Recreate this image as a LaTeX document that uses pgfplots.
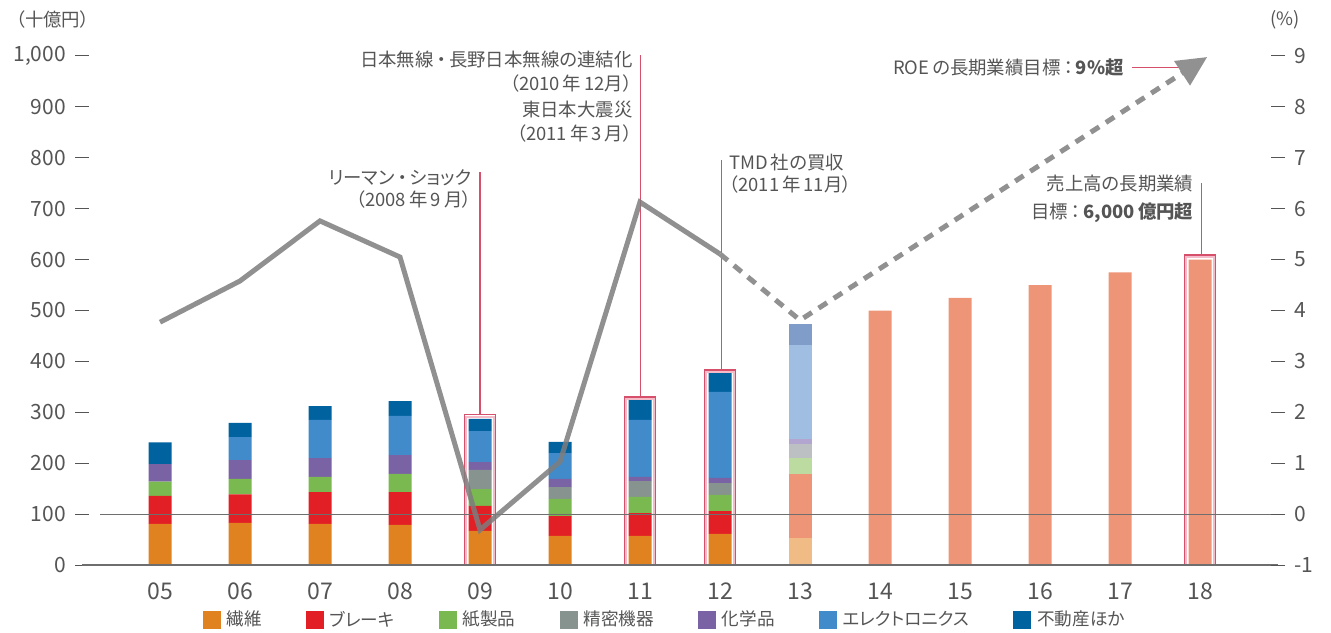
\documentclass[border=0pt]{standalone}
\usepackage{pgfplots}
\pgfplotsset{compat=1.18}
\usepackage{pgfplotstable}
\usepackage{fontspec}
\setmainfont{Noto Sans CJK JP}[RawFeature=+palt]
\usetikzlibrary{arrows.meta}

\definecolor{cFib}{HTML}{E0821F}
\definecolor{cBrk}{HTML}{E31F26}
\definecolor{cPap}{HTML}{7AB94F}
\definecolor{cPre}{HTML}{87938F}
\definecolor{cChe}{HTML}{7A63A5}
\definecolor{cEle}{HTML}{418BCB}
\definecolor{cRea}{HTML}{00629F}
\definecolor{fFib}{HTML}{F0BB84}
\definecolor{fBrk}{HTML}{EE9578}
\definecolor{fPap}{HTML}{BCDBA0}
\definecolor{fPre}{HTML}{BDC0C2}
\definecolor{fChe}{HTML}{B2A5CF}
\definecolor{fEle}{HTML}{A0BDE2}
\definecolor{fRea}{HTML}{7F9DC8}
\definecolor{cTgt}{HTML}{EE9578}
\definecolor{textgray}{HTML}{555555}
\definecolor{boxred}{HTML}{D6506C}
\definecolor{boxpink}{HTML}{F3BCC8}
\definecolor{roegray}{HTML}{7D7D7D}
\definecolor{linegray}{HTML}{6E6E6E}

\pgfplotstableread{
x s1 s2 s3 s4 s5 s6 s7 f1 f2 f3 f4 f5 f6 f7 t
0 81 55 28 0 34 0 43 0 0 0 0 0 0 0 0
1 83 56 30 0 37 45 28 0 0 0 0 0 0 0 0
2 81 62 30 0 37 75 27 0 0 0 0 0 0 0 0
3 79 64 36 0 37 77 29 0 0 0 0 0 0 0 0
4 67 49 33 38 15 61 24 0 0 0 0 0 0 0 0
5 57 39 34 23 16 51 22 0 0 0 0 0 0 0 0
6 57 45 32 31 8 112 39 0 0 0 0 0 0 0 0
7 61 45 32 23 10 169 37 0 0 0 0 0 0 0 0
8 0 0 0 0 0 0 0 53 126 31 28 10 184 41 0
9 0 0 0 0 0 0 0 0 0 0 0 0 0 0 500
10 0 0 0 0 0 0 0 0 0 0 0 0 0 0 525
11 0 0 0 0 0 0 0 0 0 0 0 0 0 0 550
12 0 0 0 0 0 0 0 0 0 0 0 0 0 0 575
13 0 0 0 0 0 0 0 0 0 0 0 0 0 0 600
}\bars

\pgfplotstableread{
x roe
0 3.77
1 4.58
2 5.76
3 5.05
4 -0.31
5 1.03
6 6.13
7 5.11
}\roeA

\pgfplotstableread{
x roe
7 5.11
8 3.81
13.09 8.98
}\roeB

\begin{document}
\begin{tikzpicture}[every node/.style={text=textgray}]
\begin{axis}[name=ax, set layers=standard,
  scale only axis, width=598pt, height=254.5pt,
  xmin=-0.975, xmax=13.975, ymin=0, ymax=1000,
  clip=false,
  axis line style={draw=none},
  ybar stacked, bar width=11.5pt,
  xtick={0,...,13},
  xticklabels={05,06,07,08,09,10,11,12,13,14,15,16,17,18},
  x tick style={draw=none},
  xtick pos=bottom, ytick pos=left,
  ytick={0,100,...,1000},
  y tick style={draw=textgray, line width=0.5pt},
  tick align=center, major tick length=7pt,
  /pgf/number format/assume math mode=true,
  /pgf/number format/1000 sep={,},
  tick label style={font=\fontsize{10.5}{12}\selectfont, text=textgray},
  xticklabel style={font=\fontsize{11.5}{13}\selectfont, yshift=-2pt},
  yticklabel style={xshift=-1pt},
  legend columns=7,
  legend style={draw=none, fill=none, at={(rel axis cs:0.488,-0.108)}, anchor=center,
    font=\fontsize{8.8}{10}\selectfont, text=textgray,
    /tikz/every even column/.append style={column sep=20pt},
    /tikz/every odd column/.append style={column sep=1pt}},
  legend image code/.code={\path[#1,draw=none] (0pt,-4.5pt) rectangle (9pt,4.5pt);},
]
\draw[on layer=axis background, linegray, line width=0.6pt] (axis cs:-0.975,0) -- (axis cs:13.975,0);
\draw[on layer=axis background, linegray, line width=0.6pt] (axis cs:-0.75,100) -- (axis cs:13.975,100);

\addplot[fill=cFib, draw=none] table[x=x,y=s1]{\bars}; \addlegendentry{繊維}
\addplot[fill=cBrk, draw=none] table[x=x,y=s2]{\bars}; \addlegendentry{ブレーキ}
\addplot[fill=cPap, draw=none] table[x=x,y=s3]{\bars}; \addlegendentry{紙製品}
\addplot[fill=cPre, draw=none] table[x=x,y=s4]{\bars}; \addlegendentry{精密機器}
\addplot[fill=cChe, draw=none] table[x=x,y=s5]{\bars}; \addlegendentry{化学品}
\addplot[fill=cEle, draw=none] table[x=x,y=s6]{\bars}; \addlegendentry{エレクトロニクス}
\addplot[fill=cRea, draw=none] table[x=x,y=s7]{\bars}; \addlegendentry{不動産ほか}
\addplot[fill=fFib, draw=none, forget plot] table[x=x,y=f1]{\bars};
\addplot[fill=fBrk, draw=none, forget plot] table[x=x,y=f2]{\bars};
\addplot[fill=fPap, draw=none, forget plot] table[x=x,y=f3]{\bars};
\addplot[fill=fPre, draw=none, forget plot] table[x=x,y=f4]{\bars};
\addplot[fill=fChe, draw=none, forget plot] table[x=x,y=f5]{\bars};
\addplot[fill=fEle, draw=none, forget plot] table[x=x,y=f6]{\bars};
\addplot[fill=fRea, draw=none, forget plot] table[x=x,y=f7]{\bars};
\addplot[fill=cTgt, draw=none, forget plot] table[x=x,y=t]{\bars};

% highlight boxes
\draw[boxpink, line width=0.7pt] (axis cs:3.825,0) rectangle (axis cs:4.175,291);
\draw[boxred, line width=0.6pt] (axis cs:3.805,0) rectangle (axis cs:4.195,295);
\draw[boxpink, line width=0.7pt] (axis cs:5.825,0) rectangle (axis cs:6.175,326);
\draw[boxred, line width=0.6pt] (axis cs:5.805,0) rectangle (axis cs:6.195,330);
\draw[boxpink, line width=0.7pt] (axis cs:6.825,0) rectangle (axis cs:7.175,379);
\draw[boxred, line width=0.6pt] (axis cs:6.805,0) rectangle (axis cs:7.195,383);
\draw[boxpink, line width=0.7pt] (axis cs:12.825,0) rectangle (axis cs:13.175,605);
\draw[boxred, line width=0.6pt] (axis cs:12.805,0) rectangle (axis cs:13.195,609);
\draw[boxred, line width=0.6pt] (axis cs:4,295) -- (axis cs:4,772);
\draw[boxred, line width=0.6pt] (axis cs:6.01,330) -- (axis cs:6.01,1002);
\draw[boxred, line width=0.6pt] (axis cs:7.02,383) -- (axis cs:7.02,796);
\draw[boxred, line width=0.6pt] (axis cs:13.02,609) -- (axis cs:13.02,750);
\draw[boxred, line width=0.6pt] (axis cs:12.15,978) -- (axis cs:12.8,978);

% annotations
\node[anchor=north east, align=right, font=\fontsize{9.2}{11}\selectfont, inner sep=0pt]
  at (axis cs:3.9,778) {リーマン\,・\,ショック\\（2008\,年\,9\,月）};
\node[anchor=north east, align=right, font=\fontsize{9.2}{12}\selectfont, inner sep=0pt]
  at (axis cs:5.91,1010) {日本無線\,・\,長野日本無線の連結化\\（2010\,年\,12月）\\[1pt]東日本大震災\\（2011\,年\,3\,月）};
\node[anchor=north west, align=left, font=\fontsize{9.2}{11}\selectfont, inner sep=0pt]
  at (axis cs:7.11,808) {TMD\,社の買収\\（2011\,年\,11月）};
\node[anchor=east, font=\fontsize{9.2}{11}\selectfont, inner sep=0pt]
  at (axis cs:12.05,978) {ROE\,の長期業績目標\,：\,\textbf{9\%超}};
\node[anchor=north east, align=right, font=\fontsize{9.2}{14}\selectfont, inner sep=0pt]
  at (axis cs:12.92,766) {売上高の長期業績\\目標\,：\,\textbf{6,000\,億円超}};
\node[font=\fontsize{9.2}{11}\selectfont] at (axis cs:-1.34,1072) {（十億円）};
\node[font=\fontsize{9.2}{11}\selectfont] at (axis cs:14.06,1072) {(\%)};
\end{axis}

\begin{axis}[
  scale only axis, width=598pt, height=254.5pt,
  xmin=-0.975, xmax=13.975, ymin=-1, ymax=9,
  clip=false,
  axis line style={draw=none},
  xtick=\empty,
  ytick={-1,0,...,9},
  ytick pos=right, yticklabel pos=right,
  y tick style={draw=textgray, line width=0.5pt},
  tick align=center, major tick length=7pt,
  /pgf/number format/assume math mode=true,
  tick label style={font=\fontsize{10.5}{12}\selectfont, text=textgray},
  yticklabel style={xshift=1pt},
]
\addplot[roegray, opacity=0.85, line width=2.5pt, line join=miter] table[x=x,y=roe]{\roeA};
\addplot[roegray!85!white, line width=2.5pt, dash pattern=on 5pt off 4pt,
  -{Triangle[length=15pt,width=14pt]}] table[x=x,y=roe]{\roeB};
\end{axis}
\pgfresetboundingbox
\path[use as bounding box] ([shift={(-41pt,-33.5pt)}]ax.south west) rectangle ([shift={(624.5pt,282.5pt)}]ax.south west);
\end{tikzpicture}
\end{document}
